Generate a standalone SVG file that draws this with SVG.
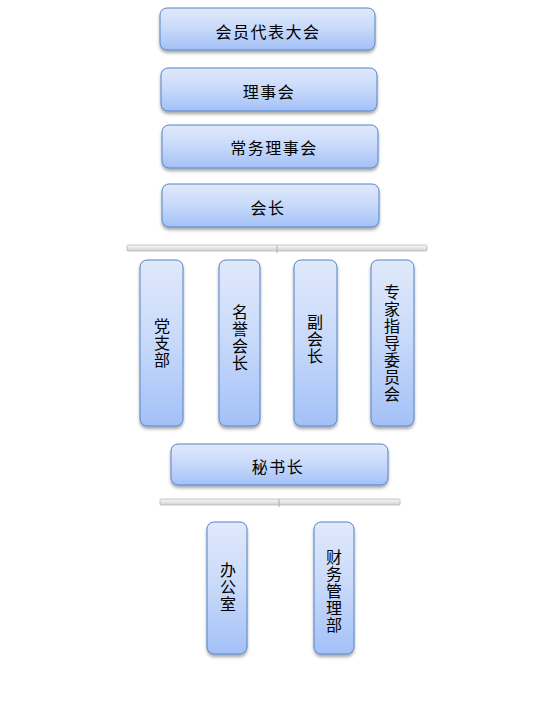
<svg xmlns="http://www.w3.org/2000/svg" width="538" height="722" viewBox="0 0 538 722">
<style>
.box{fill:url(#g);stroke:#5584c6;stroke-width:1;filter:url(#sh)}
.t{font-family:"Noto Sans CJK SC","Noto Sans",sans-serif;font-size:16px;fill:#000;text-anchor:middle;dominant-baseline:central;letter-spacing:1.5px}
.v{font-family:"Noto Sans CJK SC","Noto Sans",sans-serif;font-size:16px;fill:#000;text-anchor:middle;writing-mode:vertical-rl;letter-spacing:1px}
.bar{fill:url(#bg);stroke:#b8b8b8;stroke-width:0.8}
</style>
<defs>
<linearGradient id="g" x1="0" y1="0" x2="0" y2="1">
<stop offset="0" stop-color="#e0e9fb"/>
<stop offset="0.5" stop-color="#c7d9fa"/>
<stop offset="1" stop-color="#a3c0f7"/>
</linearGradient>
<linearGradient id="bg" x1="0" y1="0" x2="0" y2="1">
<stop offset="0" stop-color="#fafafa"/>
<stop offset="0.5" stop-color="#e6e6e6"/>
<stop offset="1" stop-color="#cfcfcf"/>
</linearGradient>
<filter id="sh" x="-20%" y="-20%" width="140%" height="150%">
<feDropShadow dx="0" dy="2.5" stdDeviation="1.5" flood-color="#000" flood-opacity="0.35"/>
</filter>
</defs>
<g id="connectors">
<rect class="bar" x="127" y="245" width="300" height="6" rx="1"/>
<line x1="277" y1="245" x2="277" y2="253" stroke="#b0b0b0" stroke-width="1"/>
<rect class="bar" x="160" y="499" width="240" height="6" rx="1"/>
<line x1="279" y1="499" x2="279" y2="507" stroke="#b0b0b0" stroke-width="1"/>
</g>
<g id="n1"><rect class="box" x="160" y="8" width="215" height="42" rx="7"/><text class="t" x="268" y="31">会员代表大会</text></g>
<g id="n2"><rect class="box" x="161" y="68" width="216" height="43" rx="7"/><text class="t" x="269" y="91">理事会</text></g>
<g id="n3"><rect class="box" x="162" y="125" width="216" height="43" rx="7"/><text class="t" x="274" y="147">常务理事会</text></g>
<g id="n4"><rect class="box" x="162" y="184" width="217" height="43" rx="7"/><text class="t" x="268" y="207">会长</text></g>
<g id="n5"><rect class="box" x="140" y="260" width="43" height="166" rx="7"/><text class="v" x="162" y="343">党支部</text></g>
<g id="n6"><rect class="box" x="219" y="260" width="41" height="166" rx="7"/><text class="v" x="240" y="338">名誉会长</text></g>
<g id="n7"><rect class="box" x="294" y="260" width="43" height="166" rx="7"/><text class="v" x="315" y="339">副会长</text></g>
<g id="n8"><rect class="box" x="371" y="260" width="43" height="166" rx="7"/><text class="v" x="392" y="343">专家指导委员会</text></g>
<g id="n9"><rect class="box" x="171" y="444" width="217" height="41" rx="7"/><text class="t" x="278" y="466">秘书长</text></g>
<g id="n10"><rect class="box" x="207" y="522" width="40" height="132" rx="7"/><text class="v" x="228" y="587">办公室</text></g>
<g id="n11"><rect class="box" x="314" y="522" width="40" height="132" rx="7"/><text class="v" x="334" y="591">财务管理部</text></g>
</svg>
